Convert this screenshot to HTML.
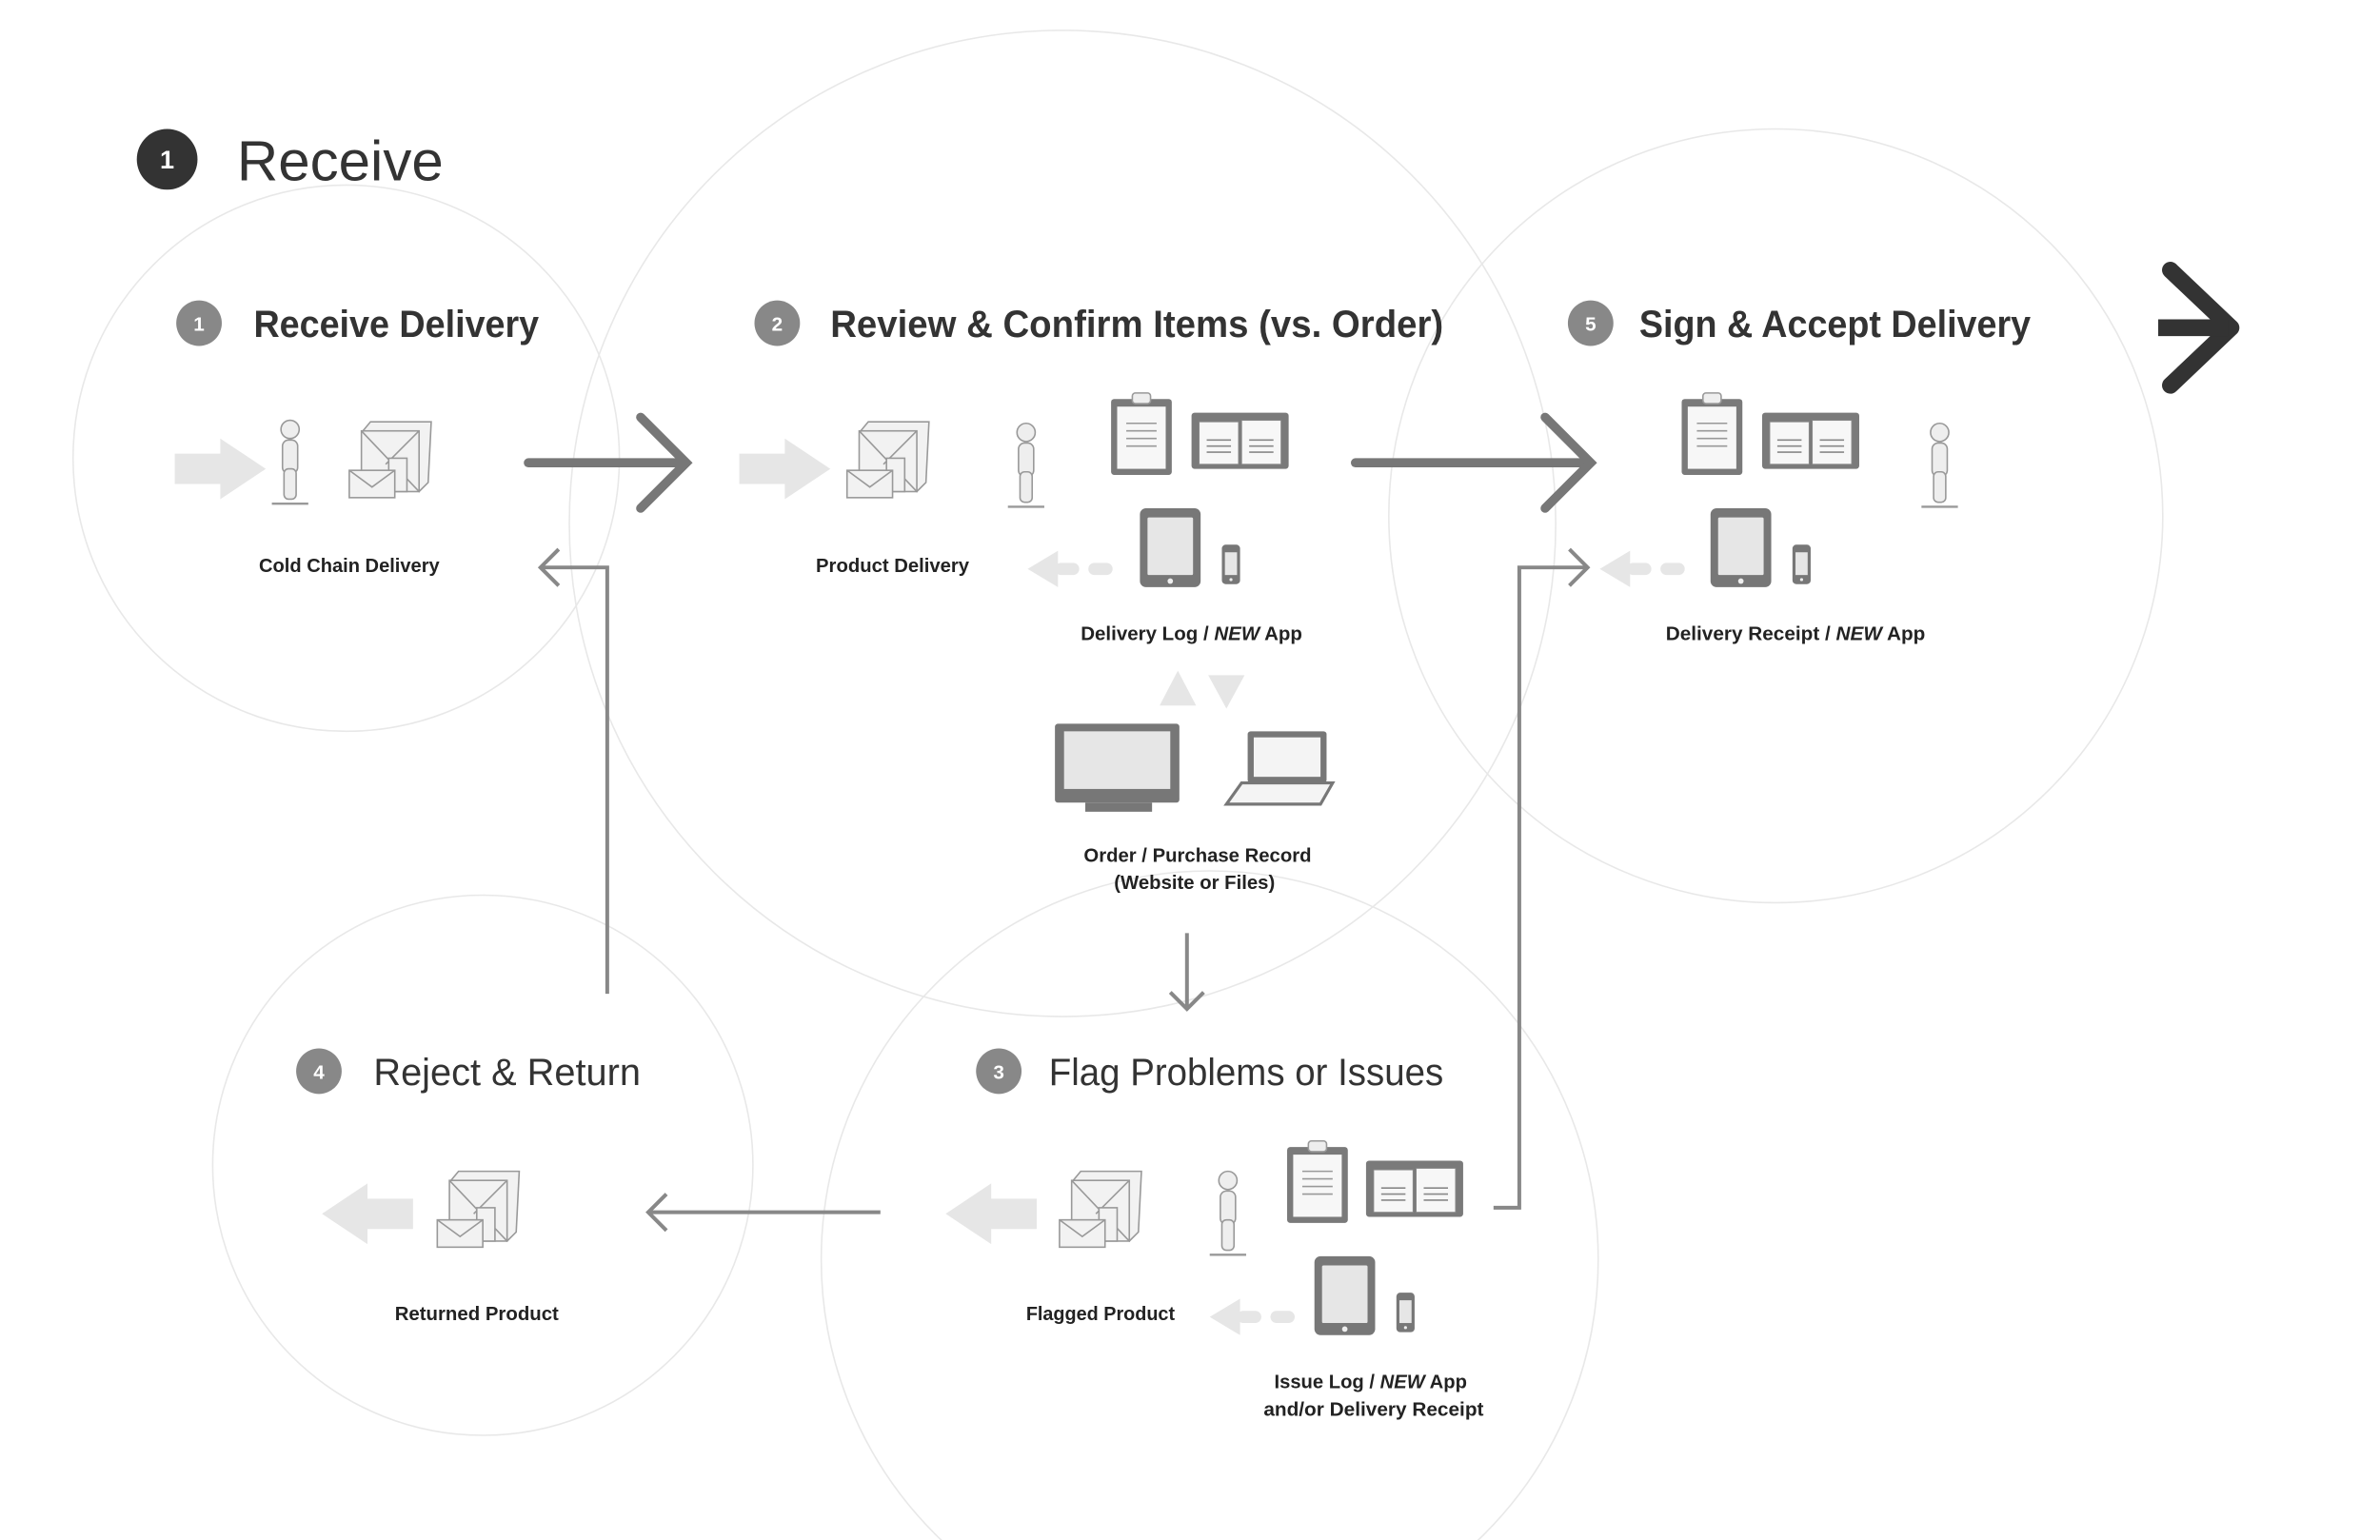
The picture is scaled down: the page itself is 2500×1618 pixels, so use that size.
<!DOCTYPE html>
<html><head><meta charset="utf-8"><style>
html,body{margin:0;padding:0;background:#fff;width:2500px;height:1618px;overflow:hidden}
svg{display:block}
text{font-family:"Liberation Sans",sans-serif}
</style></head><body>
<svg width="2500" height="1618" viewBox="0 0 1568 1015" xmlns="http://www.w3.org/2000/svg">
<defs>
<g id="clip">
 <rect x="0" y="4" width="40" height="50" rx="2" fill="#7a7a7a"/>
 <rect x="4" y="9" width="32" height="41" fill="#f7f7f7"/>
 <rect x="14" y="0" width="12" height="7" rx="2" fill="#eee" stroke="#999"/>
 <g stroke="#999" stroke-width="1"><line x1="10" y1="20" x2="30" y2="20"/><line x1="10" y1="25" x2="30" y2="25"/><line x1="10" y1="30" x2="30" y2="30"/><line x1="10" y1="35" x2="30" y2="35"/></g>
</g>
<g id="book">
 <rect x="0" y="2" width="64" height="37" rx="2" fill="#7a7a7a"/>
 <rect x="5" y="8" width="26" height="28" fill="#f7f7f7" stroke="#888" stroke-width=".6"/>
 <rect x="33" y="7" width="26" height="29" fill="#f7f7f7" stroke="#888" stroke-width=".6"/>
 <g stroke="#888" stroke-width="1"><line x1="10" y1="20" x2="26" y2="20"/><line x1="10" y1="24" x2="26" y2="24"/><line x1="10" y1="28" x2="26" y2="28"/><line x1="38" y1="20" x2="54" y2="20"/><line x1="38" y1="24" x2="54" y2="24"/><line x1="38" y1="28" x2="54" y2="28"/></g>
</g>
<g id="tab">
 <rect x="0" y="0" width="40" height="52" rx="4" fill="#777"/>
 <rect x="5" y="6" width="30" height="38" rx="1" fill="#e6e6e6"/>
 <circle cx="20" cy="48" r="1.8" fill="#eee"/>
</g>
<g id="phone">
 <rect x="0" y="0" width="12" height="26" rx="2.5" fill="#777"/>
 <rect x="2" y="5" width="8" height="15" fill="#e6e6e6"/>
 <circle cx="6" cy="23" r="1" fill="#eee"/>
</g>
<g id="person" fill="#eee" stroke="#999" stroke-width="1">
 <circle cx="12" cy="7" r="6"/>
 <rect x="7" y="14" width="10" height="22" rx="4"/>
 <rect x="8" y="33" width="8" height="20" rx="3"/>
 <line x1="0" y1="56" x2="24" y2="56" stroke="#999" stroke-width="1.5"/>
</g>
<g id="box" fill="#f2f2f2" stroke="#999" stroke-width="1">
 <path d="M9 8 L14 2 L54 2 L52 42 L46 48 Z"/>
 <rect x="8" y="8" width="38" height="40"/>
 <line x1="8" y1="8" x2="46" y2="48"/><line x1="46" y1="8" x2="24" y2="30"/>
 <rect x="26" y="26" width="12" height="22"/>
 <rect x="0" y="34" width="30" height="18"/>
 <path d="M0 34 L15 45 L30 34" fill="none"/>
</g>
<g id="rarrow"><path d="M0 -10 H30 V-20 L60 0 L30 20 V10 H0 Z" fill="#e6e6e6"/></g>
<g id="dash"><path d="M0 0 L20 -12 V12 Z" fill="#e6e6e6"/><rect x="18" y="-4" width="16" height="8" rx="4" fill="#e6e6e6"/><rect x="40" y="-4" width="16" height="8" rx="4" fill="#e6e6e6"/></g>
</defs>

<g fill="none" stroke="#e8e8e8" stroke-width="1">
 <circle cx="228" cy="302" r="180"/>
 <circle cx="700" cy="345" r="325"/>
 <circle cx="1170" cy="340" r="255"/>
 <circle cx="318" cy="768" r="178"/>
 <circle cx="797" cy="830" r="256"/>
</g>

<circle cx="110" cy="105" r="20" fill="#333"/>
<text x="110" y="111" fill="#fff" font-size="17" font-weight="bold" text-anchor="middle">1</text>
<text x="156" y="119" fill="#333" font-size="37" textLength="136" lengthAdjust="spacingAndGlyphs">Receive</text>

<g font-size="13" fill="#fff" text-anchor="middle" font-weight="bold">
 <circle cx="131" cy="213" r="15" fill="#888"/><text x="131" y="218">1</text>
 <circle cx="512" cy="213" r="15" fill="#888"/><text x="512" y="218">2</text>
 <circle cx="1048" cy="213" r="15" fill="#888"/><text x="1048" y="218">5</text>
 <circle cx="210" cy="706" r="15" fill="#888"/><text x="210" y="711">4</text>
 <circle cx="658" cy="706" r="15" fill="#888"/><text x="658" y="711">3</text>
</g>
<g fill="#333" font-size="25">
 <text x="167" y="222" font-weight="bold" textLength="188" lengthAdjust="spacingAndGlyphs">Receive Delivery</text>
 <text x="547" y="222" font-weight="bold" textLength="404" lengthAdjust="spacingAndGlyphs">Review &amp; Confirm Items (vs. Order)</text>
 <text x="1080" y="222" font-weight="bold" textLength="258" lengthAdjust="spacingAndGlyphs">Sign &amp; Accept Delivery</text>
 <text x="246" y="715" textLength="176" lengthAdjust="spacingAndGlyphs">Reject &amp; Return</text>
 <text x="691" y="715" textLength="260" lengthAdjust="spacingAndGlyphs">Flag Problems or Issues</text>
</g>

<path d="M1430 178 L1470 216 L1430 254" fill="none" stroke="#333" stroke-width="11" stroke-linecap="round" stroke-linejoin="round"/>
<path d="M1422 216 H1468" stroke="#333" stroke-width="11"/>

<g stroke="#777" stroke-width="6" fill="none" stroke-linecap="round">
 <line x1="348" y1="305" x2="450" y2="305"/><path d="M422 275 L452 305 L422 335"/>
 <line x1="893" y1="305" x2="1046" y2="305"/><path d="M1018 275 L1048 305 L1018 335"/>
</g>
<g stroke="#888" stroke-width="2.5" fill="none">
 <path d="M400 655 V374 H356"/><path d="M368 362 L356 374 L368 386"/>
 <line x1="782" y1="615" x2="782" y2="665"/><path d="M771 654 L782 665 L793 654"/>
 <line x1="580" y1="799" x2="427" y2="799"/><path d="M439 787 L427 799 L439 811"/>
 <path d="M984 796 H1001 V374 H1046"/><path d="M1034 362 L1046 374 L1034 386"/>
</g>

<use href="#rarrow" x="115" y="309"/>
<use href="#person" x="179" y="276"/>
<use href="#box" x="230" y="276"/>
<use href="#rarrow" x="487" y="309"/>
<use href="#box" x="558" y="276"/>
<use href="#person" x="664" y="278"/>
<use href="#clip" x="732" y="259"/>
<use href="#book" x="785" y="270"/>
<use href="#tab" x="751" y="335"/>
<use href="#phone" x="805" y="359"/>
<use href="#dash" x="677" y="375"/>
<path d="M764 465 L776 442 L788 465 Z" fill="#e6e6e6"/>
<path d="M796 445 L820 445 L808 467 Z" fill="#e6e6e6"/>
<g>
 <rect x="695" y="477" width="82" height="52" rx="2" fill="#777"/>
 <rect x="701" y="482" width="70" height="38" fill="#e6e6e6"/>
 <rect x="715" y="529" width="44" height="6" fill="#777"/>
 <rect x="822" y="482" width="52" height="34" rx="2" fill="#777"/>
 <rect x="826" y="486" width="44" height="26" fill="#f4f4f4"/>
 <path d="M818 516 H878 L870 530 H808 Z" fill="#f4f4f4" stroke="#777" stroke-width="2"/>
</g>
<use href="#clip" x="1108" y="259"/>
<use href="#book" x="1161" y="270"/>
<use href="#person" x="1266" y="278"/>
<use href="#tab" x="1127" y="335"/>
<use href="#phone" x="1181" y="359"/>
<use href="#dash" x="1054" y="375"/>
<use href="#rarrow" transform="translate(272 800) scale(-1 1)"/>
<use href="#box" x="288" y="770"/>
<use href="#rarrow" transform="translate(683 800) scale(-1 1)"/>
<use href="#box" x="698" y="770"/>
<use href="#person" x="797" y="771"/>
<use href="#clip" x="848" y="752"/>
<use href="#book" x="900" y="763"/>
<use href="#tab" x="866" y="828"/>
<use href="#phone" x="920" y="852"/>
<use href="#dash" x="797" y="868"/>

<g fill="#222" font-size="13" font-weight="bold" text-anchor="middle">
 <text x="230" y="377" textLength="119" lengthAdjust="spacingAndGlyphs">Cold Chain Delivery</text>
 <text x="588" y="377" textLength="101" lengthAdjust="spacingAndGlyphs">Product Delivery</text>
 <text x="785" y="422" textLength="146" lengthAdjust="spacingAndGlyphs">Delivery Log / <tspan font-style="italic">NEW</tspan> App</text>
 <text x="789" y="568" textLength="150" lengthAdjust="spacingAndGlyphs">Order / Purchase Record</text>
 <text x="787" y="586" textLength="106" lengthAdjust="spacingAndGlyphs">(Website or Files)</text>
 <text x="1183" y="422" textLength="171" lengthAdjust="spacingAndGlyphs">Delivery Receipt / <tspan font-style="italic">NEW</tspan> App</text>
 <text x="314" y="870" textLength="108" lengthAdjust="spacingAndGlyphs">Returned Product</text>
 <text x="725" y="870" textLength="98" lengthAdjust="spacingAndGlyphs">Flagged Product</text>
 <text x="903" y="915" textLength="127" lengthAdjust="spacingAndGlyphs">Issue Log / <tspan font-style="italic">NEW</tspan> App</text>
 <text x="905" y="933" textLength="145" lengthAdjust="spacingAndGlyphs">and/or Delivery Receipt</text>
</g>
</svg>
</body></html>
